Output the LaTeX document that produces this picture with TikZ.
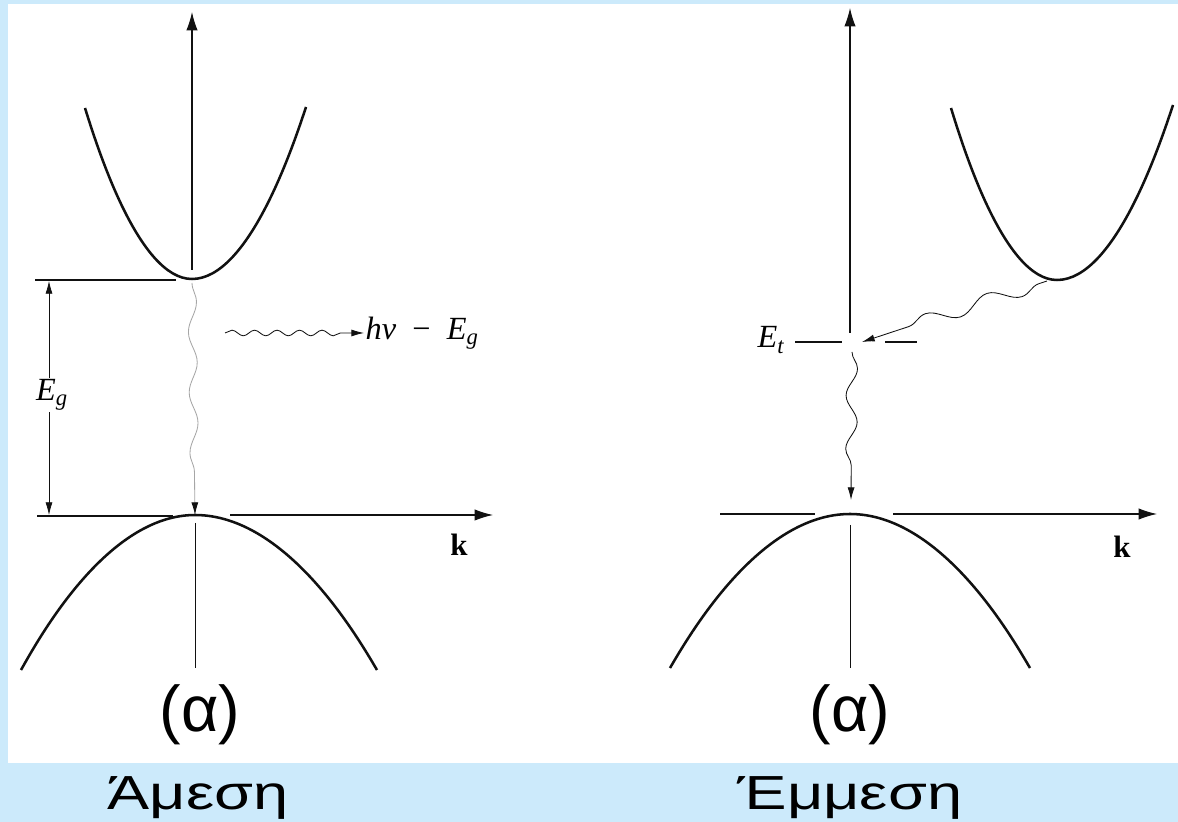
\documentclass[tikz,border=0pt]{standalone}
\usepackage{fontspec}
\setmainfont{Liberation Serif}
\newfontfamily\greekfont{Liberation Sans}
\usepackage{graphicx}
\usetikzlibrary{arrows.meta, decorations.pathmorphing}
\definecolor{Sky}{HTML}{CCEAFB}
\definecolor{Ink}{HTML}{111111}
\tikzset{
    band/.style={line width=1.8pt, color=Ink},
    axis/.style={line width=0.8pt, color=Ink, -{Latex[length=13pt,width=8pt]}},
    level/.style={line width=0.9pt, color=Ink},
    wave/.style={line width=0.6pt, color=Ink, decorate, -{Latex[length=9pt,width=5pt,color=Ink]}},
    lbl/.style={font=\fontsize{23}{25}\selectfont\itshape, inner sep=1pt},
    kaxis/.style={font=\fontsize{22}{24}\selectfont\bfseries},
    caption/.style={font=\greekfont\fontsize{46}{50}\selectfont, inner sep=0pt},
    title/.style={font=\greekfont\fontsize{34}{38}\selectfont, inner sep=0pt},
}

\begin{document}
\begin{tikzpicture}[x=0.025cm, y=0.025cm]
    \useasboundingbox (0,0) rectangle (1178,822);
    % Sfondo
    \fill[Sky] (0,0) rectangle (1178,822);
    \fill[white] (8,59) rectangle (1178,818);

    % Diretta (sinistra)
    \coordinate (cbA) at (192,543);
    \coordinate (vbA) at (195,307);
    \draw[band] (85,714) parabola bend (cbA) (306,715);
    \draw[band] (21,152) parabola bend (vbA) (377,152);
    \draw[axis] (192,552) -- (192,810);
    \draw[level, line width=0.6pt] (195,299) -- (195,154);
    \draw[level] (35,542) -- (176,542);
    \draw[level] (37,306) -- (173,306);
    \draw[axis] (230,307) -- (493,307);
    \node[kaxis] (kA) at (459,277) {k};

    % Gap
    \draw[line width=0.5pt, color=Ink, {Latex[length=9pt,width=5pt]}-{Latex[length=9pt,width=5pt]}] (49,541) -- (49,307);
    \node[lbl, fill=white] (EgA) at (52,427) {E\textsubscript{g}};
    \draw[wave, color=gray!70, decoration={snake, amplitude=3pt, segment length=43pt, post length=14pt}]
        (192,539) -- (vbA);
    \node[lbl, anchor=west] (hv) at (364,489) {hν\hspace{0.5em}{\upshape −}\hspace{0.5em}E\textsubscript{g}};
    \draw[wave, decoration={snake, amplitude=2pt, segment length=16pt, post length=10pt}]
        (225,489) -- (hv.west);

    % Indiretta (destra)
    \coordinate (cbB) at (1057,542);
    \coordinate (vbB) at (850,308);
    \draw[band] (951,714) parabola bend (cbB) (1173,717);
    \draw[band] (670,154) parabola bend (vbB) (1030,154);
    \draw[axis] (850,489) -- (850,814);
    \draw[level, line width=0.6pt] (850,297) -- (850,154);
    \draw[level] (720,308) -- (815,308);
    \draw[axis] (893,308) -- (1157,308);
    \node[kaxis] (kB) at (1122,275) {k};

    % Livello trappola
    \coordinate (trap) at (862,480);
    \draw[level, line width=1.4pt] (795,480) -- (842,480);
    \draw[level, line width=1.4pt] (885,480) -- (917,480);
    \node[lbl, anchor=east] (Et) at (786,482) {E\textsubscript{t}};
    \draw[wave, decoration={snake, amplitude=5pt, segment length=46pt, pre length=6pt, post length=12pt}]
        (1047,541) -- (trap);
    \draw[wave, decoration={snake, amplitude=4pt, segment length=38pt, post length=14pt}]
        (852,470) -- (851,322);

    % Didascalie
    \node[caption, anchor=base] (capA) at (200,90) {(α)};
    \node[caption, anchor=base] (capB) at (850,90) {(α)};
    \node[title, anchor=base] (titA) at (198,12) {\scalebox{1.32}[1]{Άμεση}};
    \node[title, anchor=base] (titB) at (850,12) {\scalebox{1.32}[1]{Έμμεση}};
\end{tikzpicture}
\end{document}
